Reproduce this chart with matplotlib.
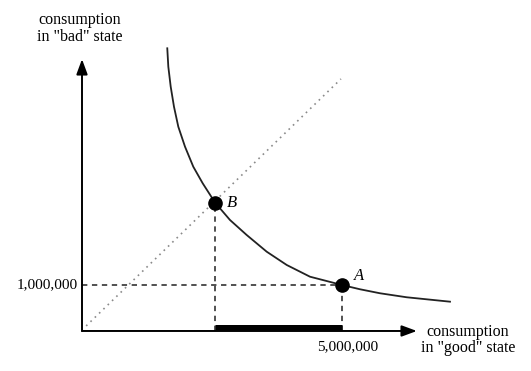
import matplotlib
matplotlib.use("Agg")
import matplotlib.pyplot as plt

# valores en millones
curve_x = [1.640, 1.660, 1.706, 1.769, 1.852, 1.981, 2.140, 2.321, 2.560, 2.846, 3.167,
           3.552, 3.937, 4.385, 5.000, 5.346, 5.731, 6.244, 6.756, 7.077]
curve_y = [6.146, 5.746, 5.311, 4.876, 4.441, 4.007, 3.572, 3.211, 2.790, 2.413, 2.087,
           1.724, 1.435, 1.180, 1.000, 0.907, 0.820, 0.733, 0.674, 0.637]
diag_x = [0.08, 4.98]
diag_y = [0.11, 5.48]
point_a = (5.0, 1.0)
point_b = (2.56, 2.79)
tick_x_label = "5,000,000"
tick_y_label = "1,000,000"

plt.rcParams['font.family'] = ['Liberation Serif', 'DejaVu Serif']

fig = plt.figure(figsize=(5.31, 3.71), dpi=100)
ax = fig.add_axes([0, 0, 1, 1])
ax.set_xlim(-1.577, 8.635)
ax.set_ylim(-0.87, 7.196)
ax.axis('off')

# ejes con flechas
arrow = dict(arrowstyle='-|>,head_length=0.65,head_width=0.24', mutation_scale=14,
             color='black', lw=1.4, shrinkA=0, shrinkB=0)
ax.annotate('', xy=(6.44, 0), xytext=(0, 0), arrowprops=arrow)
ax.annotate('', xy=(0, 5.91), xytext=(0, 0), arrowprops=arrow)

# linea de certeza
ax.plot(diag_x, diag_y, color='#8a8a8a', lw=1.2, linestyle=(0, (1, 2.6)))

# curva de indiferencia
ax.plot(curve_x, curve_y, color='#222222', lw=1.3, solid_joinstyle='round')

# lineas punteadas
dash = dict(color='#222222', lw=1.1, linestyle=(0, (3.5, 3)))
ax.plot([0, point_a[0]], [point_a[1], point_a[1]], **dash)
ax.plot([point_a[0], point_a[0]], [0, point_a[1]], **dash)
ax.plot([point_b[0], point_b[0]], [0, point_b[1]], **dash)

# barra gruesa
ax.plot([point_b[0], point_a[0]], [0.076, 0.076], color='black', lw=3.6, solid_capstyle='butt')

# puntos
ax.plot([point_a[0], point_b[0]], [point_a[1], point_b[1]], 'o', color='black', markersize=9.5)
ax.text(point_a[0] + 0.22, point_a[1] + 0.2, 'A', fontsize=12, style='italic', ha='left', va='center')
ax.text(point_b[0] + 0.22, point_b[1], 'B', fontsize=12, style='italic', ha='left', va='center')

# etiquetas
ax.text(-0.08, point_a[1], tick_y_label, fontsize=11, ha='right', va='center')
ax.text(point_a[0] + 0.1, -0.35, tick_x_label, fontsize=11, ha='center', va='center')
ax.text(-0.04, 6.58, 'consumption\nin "bad" state', fontsize=11.5, ha='center', va='center', linespacing=1.05)
ax.text(7.42, -0.2, 'consumption\nin "good" state', fontsize=11.5, ha='center', va='center', linespacing=1.05)

fig.savefig('out.png', dpi=100)
